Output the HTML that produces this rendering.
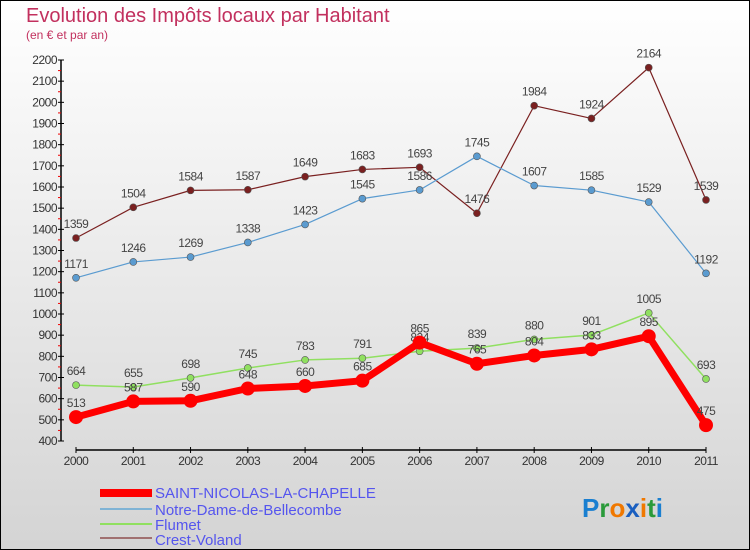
<!DOCTYPE html>
<html><head><meta charset="utf-8"><style>
body{margin:0;width:750px;height:550px;overflow:hidden;font-family:"Liberation Sans",sans-serif}
#wrap{position:absolute;left:0;top:0;width:748px;height:548px;border:1px solid #000;background:linear-gradient(#fff,#d4d4d4)}
</style></head><body>
<div id="wrap">
<svg width="750" height="550" style="position:absolute;left:-1px;top:-1px">
<text x="26" y="22" font-size="20" fill="#c2305e">Evolution des Impôts locaux par Habitant</text>
<text x="26" y="39" font-size="12" fill="#c2305e">(en € et par an)</text>
<g id="axes"></g><g id="series"></g>
<g>
<rect x="100" y="489" width="52" height="8" fill="#f00"/>
<text x="155" y="498" font-size="15" fill="#5555ee">SAINT-NICOLAS-LA-CHAPELLE</text>
<rect x="100" y="508" width="52" height="2" fill="#7fb3d5"/>
<text x="155" y="515" font-size="15" fill="#5555ee">Notre-Dame-de-Bellecombe</text>
<rect x="100" y="523" width="52" height="2" fill="#90e060"/>
<text x="155" y="530" font-size="15" fill="#5555ee">Flumet</text>
<rect x="100" y="537" width="52" height="2" fill="#a07070"/>
<text x="155" y="545" font-size="15" fill="#5555ee">Crest-Voland</text>
</g>
<text x="582" y="517" font-size="26" font-weight="bold"><tspan fill="#1a7fd0">P</tspan><tspan fill="#2a9a3a">r</tspan><tspan fill="#f07800">o</tspan><tspan fill="#1a5fc0">x</tspan><tspan fill="#f07800">i</tspan><tspan fill="#2a9a3a">t</tspan><tspan fill="#1a7fd0">i</tspan></text>
</svg></div>
<script>
const years=["2000","2001","2002","2003","2004","2005","2006","2007","2008","2009","2010","2011"];
const yTicks=[400,500,600,700,800,900,1000,1100,1200,1300,1400,1500,1600,1700,1800,1900,2000,2100,2200];
const snc=[513,587,590,648,660,685,865,765,804,833,895,475];
const ndb=[1171,1246,1269,1338,1423,1545,1586,1745,1607,1585,1529,1192];
const flumet=[664,655,698,745,783,791,824,839,880,901,1005,693];
const crest=[1359,1504,1584,1587,1649,1683,1693,1476,1984,1924,2164,1539];
const NS="http://www.w3.org/2000/svg";
const X=i=>76+i*(630/11);
const Y=v=>441-(v-400)*(381/1800);
function mk(t,a,p){const e=document.createElementNS(NS,t);for(const k in a)e.setAttribute(k,a[k]);p.appendChild(e);return e;}
const ax=document.getElementById('axes');
let l=mk('line',{x1:61,y1:Y(400),x2:61,y2:Y(2200),stroke:'#000','stroke-width':1.5},ax);


yTicks.forEach(v=>{
 const t=mk('line',{x1:58,x2:64,y1:Y(v),y2:Y(v),stroke:'#000'},ax);
 
 
 if(v<2200){const m=mk('line',{x1:58,x2:61,y1:Y(v+50),y2:Y(v+50),stroke:'#e00'},ax);
 
 }
 const tx=mk('text',{x:57,y:Y(v)+4,'font-size':12,fill:'#333','text-anchor':'end','letter-spacing':'-0.5'},ax);
 tx.textContent=v;
 
 
});
l=mk('line',{x1:76,y1:450,x2:706,y2:450,stroke:'#000','stroke-width':1.5},ax);


years.forEach((y,i)=>{
 const t=mk('line',{x1:X(i),x2:X(i),y1:447,y2:453,stroke:'#000'},ax);
 
 
 const tx=mk('text',{x:X(i),y:465,'font-size':12,fill:'#333','text-anchor':'middle','letter-spacing':'-0.5'},ax);
 tx.textContent=y;
 
 
});
const sg=document.getElementById('series');
function draw(vals,color,w,r,name){
 const g=mk('g',{},sg);
 
 
 const p=mk('polyline',{points:vals.map((v,i)=>X(i)+','+Y(v)).join(' '),fill:'none',stroke:color,'stroke-width':w,'stroke-linejoin':'round'},g);
 
 
 vals.forEach((v,i)=>{
  const c=mk('circle',{cx:X(i),cy:Y(v),r:r,fill:color,stroke:r>5?'none':'#555','stroke-width':0.6},g);
  
  
  const t=mk('text',{x:X(i),y:Y(v)-10,'font-size':12,fill:'#444','text-anchor':'middle','letter-spacing':'-0.5'},g);
  t.textContent=v;
  
  
 });
}
draw(crest,'#7a2020',1.2,3.5,'crest-voland');
draw(ndb,'#5a9bd0',1.2,3.5,'notre-dame');
draw(flumet,'#90e060',1.5,3.5,'flumet');
draw(snc,'#f00',7,7,'saint-nicolas');
</script>
</body></html>
